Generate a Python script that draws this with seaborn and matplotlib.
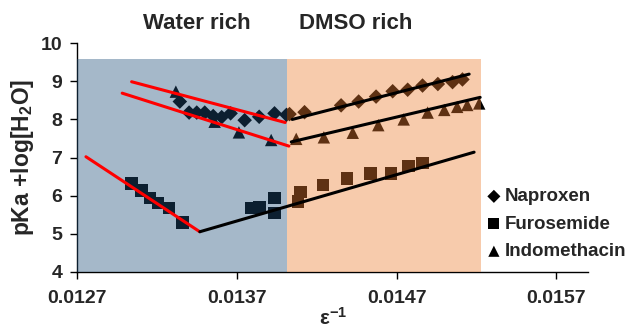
import matplotlib
matplotlib.use("Agg")
import matplotlib.pyplot as plt
import seaborn as sns
import numpy as np

# data
nap_x = [0.013341, 0.013399, 0.013447, 0.013497, 0.013550, 0.013603, 0.013659,
         0.013747, 0.013838, 0.013934, 0.014009, 0.014028, 0.014122, 0.014351,
         0.014461, 0.014570, 0.014674, 0.014768, 0.014861, 0.014957, 0.015049,
         0.015111]
nap_y = [8.47, 8.18, 8.18, 8.18, 8.09, 8.06, 8.16, 7.98, 8.07, 8.16, 8.12,
         8.14, 8.19, 8.37, 8.47, 8.60, 8.74, 8.78, 8.89, 8.93, 8.98, 9.05]

fur_x = [0.013039, 0.013101, 0.013153, 0.013205, 0.013274, 0.013358, 0.013789,
         0.013841, 0.013934, 0.013934, 0.014097, 0.014080, 0.014236, 0.014389,
         0.014534, 0.014664, 0.014772, 0.014861]
fur_y = [6.32, 6.13, 5.93, 5.80, 5.67, 5.29, 5.67, 5.69, 5.93, 5.55,
         6.10, 5.84, 6.28, 6.45, 6.58, 6.58, 6.78, 6.85]

ind_x = [0.013316, 0.013559, 0.013711, 0.013913, 0.014070, 0.014243, 0.014424,
         0.014584, 0.014743, 0.014893, 0.014997, 0.015078, 0.015141, 0.015216]
ind_y = [8.73, 7.94, 7.66, 7.46, 7.49, 7.53, 7.65, 7.85, 8.00, 8.18, 8.25,
         8.33, 8.38, 8.42]

# fitted lines (start, end)
red_lines = {
    "nap": ([0.013039, 0.014001], [8.99, 7.92]),
    "ind": ([0.012980, 0.014024], [8.69, 7.30]),
    "fur": ([0.012753, 0.013466], [7.02, 5.05]),
}
black_lines = {
    "nap": ([0.014045, 0.015153], [8.00, 9.19]),
    "ind": ([0.014039, 0.015222], [7.41, 8.58]),
    "fur": ([0.013466, 0.015184], [5.05, 7.14]),
}

water_region = (0.0127, 0.01401)
dmso_region = (0.01401, 0.01523)
region_top = 9.6

x_ticks = [0.0127, 0.0137, 0.0147, 0.0157]
x_ticklabels = ["0.0127", "0.0137", "0.0147", "0.0157"]
y_ticks = [4, 5, 6, 7, 8, 9, 10]

sns.set_style("ticks")
plt.rcParams["font.family"] = ["Liberation Sans", "DejaVu Sans"]
plt.rcParams["font.weight"] = "bold"
plt.rcParams["mathtext.fontset"] = "custom"
plt.rcParams["mathtext.rm"] = "Liberation Sans:bold"
plt.rcParams["mathtext.bf"] = "Liberation Sans:bold"
plt.rcParams["mathtext.it"] = "Liberation Sans:bold"
plt.rcParams["mathtext.default"] = "bf"

fig = plt.figure(figsize=(6.3, 3.33), dpi=100)
ax = fig.add_axes([0.123, 0.184, 0.811, 0.686])

# black markers, shaded regions go over them
sns.scatterplot(x=nap_x, y=nap_y, marker="D", s=55, color="black",
                edgecolor="none", label="Naproxen", ax=ax, zorder=2)
sns.scatterplot(x=fur_x, y=fur_y, marker="s", s=80, color="black",
                edgecolor="none", label="Furosemide", ax=ax, zorder=2)
sns.scatterplot(x=ind_x, y=ind_y, marker="^", s=80, color="black",
                edgecolor="none", label="Indomethacin", ax=ax, zorder=2)

ax.fill_between(water_region, 4, region_top, color="#1F4E79", alpha=0.4,
                linewidth=0, zorder=3)
ax.fill_between(dmso_region, 4, region_top, color="#ED7D31", alpha=0.4,
                linewidth=0, zorder=3)

for xs, ys in red_lines.values():
    sns.lineplot(x=xs, y=ys, color="#FF0000", linewidth=2.2, ax=ax, zorder=4,
                 legend=False)
for xs, ys in black_lines.values():
    sns.lineplot(x=xs, y=ys, color="black", linewidth=2.2, ax=ax, zorder=4,
                 legend=False)

ax.set_xlim(0.0127, 0.0159)
ax.set_ylim(4, 10)
ax.set_xticks(x_ticks)
ax.set_xticklabels(x_ticklabels, fontsize=14, fontweight="bold")
ax.set_yticks(y_ticks)
ax.set_yticklabels([str(v) for v in y_ticks], fontsize=14, fontweight="bold")
ax.tick_params(direction="out", length=5, width=1, color="black")
ax.tick_params(axis="x", pad=8)
ax.tick_params(axis="y", pad=6)
sns.despine(ax=ax)
for s in ["left", "bottom"]:
    ax.spines[s].set_color("black")
    ax.spines[s].set_linewidth(1)

ax.set_xlabel("ε$^{-1}$", fontsize=15, fontweight="bold", labelpad=0)
ax.set_ylabel("pKa +log[H$_2$O]", fontsize=16.5, fontweight="bold", labelpad=3)

ax.text(0.01345, 10.52, "Water rich", ha="center", va="center", fontsize=16,
        fontweight="bold", clip_on=False)
ax.text(0.014445, 10.52, "DMSO rich", ha="center", va="center", fontsize=16,
        fontweight="bold", clip_on=False)

ax.legend(loc="upper left", bbox_to_anchor=(0.775, 0.435),
          bbox_transform=fig.transFigure, frameon=False, fontsize=13.5,
          handlelength=0.6, handletextpad=0.3, labelspacing=0.55,
          borderaxespad=0, borderpad=0, markerscale=0.9)

fig.savefig("out.png", dpi=100)
